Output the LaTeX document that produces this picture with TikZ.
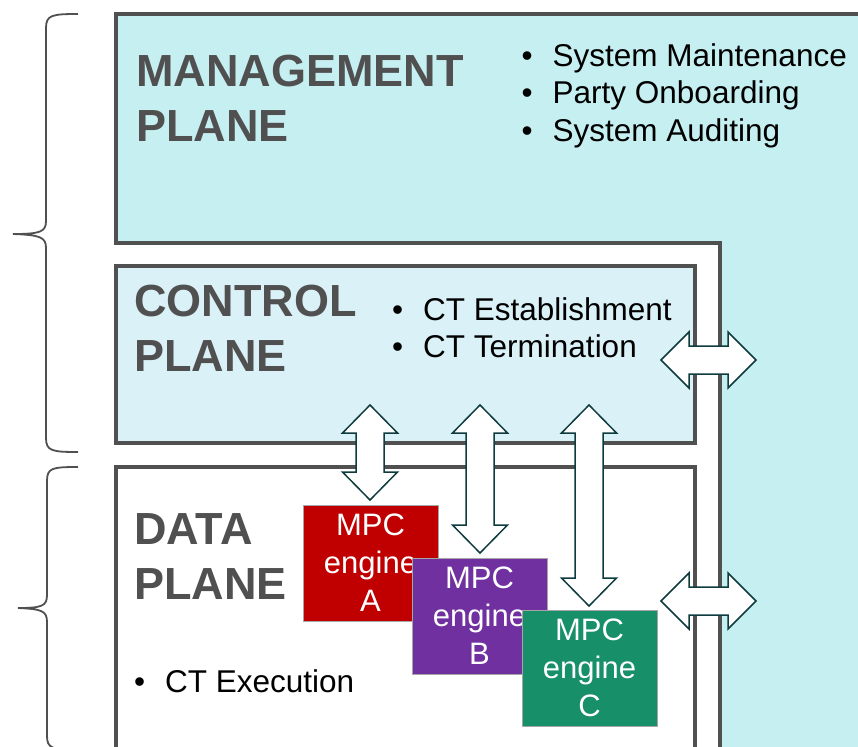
\documentclass[tikz,border=0pt]{standalone}
\usepackage{fontspec}
\setmainfont{Liberation Sans}
\definecolor{mgmtfill}{HTML}{C6EFF1}
\definecolor{ctrlfill}{HTML}{DAF1F7}
\definecolor{framegray}{HTML}{505050}
\definecolor{arrowline}{HTML}{0E3C3E}
\definecolor{engA}{HTML}{C00000}
\definecolor{engB}{HTML}{7030A0}
\definecolor{engC}{HTML}{178F68}
\tikzset{
  plane/.style={draw=framegray, line width=3.5pt},
  planetitle/.style={anchor=north west, inner sep=0pt, align=left, text=framegray,
    font=\fontsize{45}{55}\selectfont\bfseries},
  bullets/.style={anchor=north west, inner sep=0pt, align=left,
    font=\fontsize{31.5}{37.5}\selectfont},
  engine/.style={draw=gray!70, line width=0.8pt, text=white, align=center,
    minimum width=135pt, minimum height=116pt, inner sep=0pt,
    font=\fontsize{31}{38}\selectfont},
  blockarrow/.style={draw=arrowline, fill=white, line width=1.5pt},
  bracket/.style={draw=framegray, line width=1.8pt},
}
\newcommand{\bul}{\makebox[31pt][l]{\textbullet}}
% vertical double arrow: x, top, bottom
\newcommand{\vblock}[3]{%
  \draw[blockarrow] (#1,#2) -- (#1+27.5,#2+28) -- (#1+14,#2+28) -- (#1+14,#3-28)
    -- (#1+27.5,#3-28) -- (#1,#3) -- (#1-27.5,#3-28) -- (#1-14,#3-28)
    -- (#1-14,#2+28) -- (#1-27.5,#2+28) -- cycle;}
% horizontal double arrow: y, left, right
\newcommand{\hblock}[3]{%
  \draw[blockarrow] (#2,#1) -- (#2+28,#1-28) -- (#2+28,#1-14) -- (#3-28,#1-14)
    -- (#3-28,#1-28) -- (#3,#1) -- (#3-28,#1+28) -- (#3-28,#1+14)
    -- (#2+28,#1+14) -- (#2+28,#1+28) -- cycle;}
\begin{document}
\begin{tikzpicture}[x=1pt, y=-1pt]
  \useasboundingbox (0,0) rectangle (858,746);
  \clip (0,0) rectangle (858,746);

  % planes
  \draw[plane, fill=mgmtfill] (116,14) -- (880,14) -- (880,770) -- (720,770)
    -- (720,243) -- (116,243) -- cycle;
  \draw[plane, fill=ctrlfill] (116,266) rectangle (695,443);
  \draw[plane, fill=white] (116,467) rectangle (695,770);

  % brackets
  \draw[bracket] (78,14) .. controls (52,14) and (46,15) .. (46,28) -- (46,221)
    .. controls (46,232) and (40,234) .. (13,234)
    .. controls (40,235) and (46,237) .. (46,248) -- (46,438)
    .. controls (46,451) and (52,452) .. (78,452);
  \draw[bracket] (78,467) .. controls (52,467) and (47,468) .. (47,481) -- (47,595)
    .. controls (47,606) and (42,608) .. (18,608)
    .. controls (42,609) and (47,611) .. (47,622) -- (47,736)
    .. controls (47,748) and (52,750) .. (78,750);

  % titles and items
  \node[planetitle] (mgmt) at (136,55) {MANAGEMENT\\PLANE};
  \node[planetitle] (ctrl) at (134,285) {CONTROL\\PLANE};
  \node[planetitle] (data) at (134,513) {DATA\\PLANE};
  \node[bullets] (mgmtitems) at (521.5,43)
    {\bul System Maintenance\\\bul Party Onboarding\\\bul System Auditing};
  \node[bullets] (ctrlitems) at (392,297) {\bul CT Establishment\\\bul CT Termination};
  \node[bullets] (dataitems) at (134,669) {\bul CT Execution};

  % control to engines
  \vblock{370}{405}{500}
  \vblock{480}{405}{553}
  \vblock{589}{405}{606}

  % engines
  \node[engine, fill=engA] (A) at (370.5,563) {MPC\\engine\\A};
  \node[engine, fill=engB] (B) at (479.5,616) {MPC\\engine\\B};
  \node[engine, fill=engC] (C) at (589.5,668) {MPC\\engine\\C};

  % to management
  \hblock{360}{661}{756}
  \hblock{601}{661}{756}
\end{tikzpicture}
\end{document}
